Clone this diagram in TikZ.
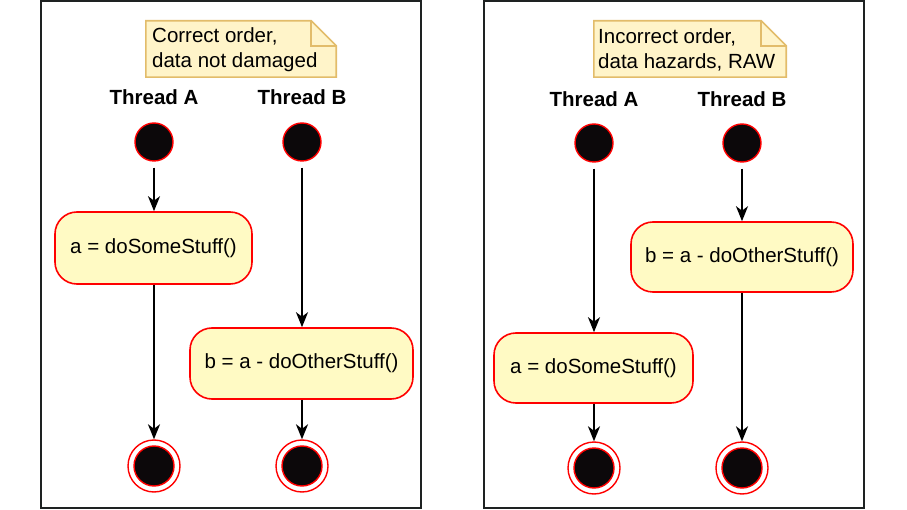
\documentclass[tikz,border=0pt]{standalone}
\usepackage{fontspec}
\setmainfont{Liberation Sans}
\usetikzlibrary{arrows.meta}
\definecolor{actfill}{HTML}{FFFAC4}
\definecolor{notefill}{HTML}{FFF4C9}
\definecolor{notedraw}{HTML}{E2BC6A}
\definecolor{framecol}{HTML}{1E2222}
\definecolor{dotcol}{HTML}{0C080A}
\begin{document}
\begin{tikzpicture}[x=1pt,y=-1pt,
  every node/.style={font=\fontsize{20.5}{25}\selectfont},
  frame/.style={draw=framecol,line width=2pt},
  action/.style={draw=red,line width=1.6pt,fill=actfill,rounded corners=22pt,inner sep=0pt},
  startdot/.style={circle,draw=red,line width=1.4pt,fill=dotcol,minimum size=38pt,inner sep=0pt},
  enddot/.style={circle,draw=red,line width=1.4pt,minimum size=52pt,inner sep=0pt,fill=white},
  endinner/.style={circle,draw=red,line width=1.4pt,fill=dotcol,minimum size=40pt,inner sep=0pt},
  flow/.style={line width=2pt,-{Stealth[length=15pt,width=12pt,inset=4.5pt]}},
  label/.style={font=\fontsize{20.5}{25}\selectfont\bfseries},
  notebox/.style={minimum width=190pt,minimum height=56pt,inner sep=0pt},
  notetext/.style={align=left,inner sep=0pt,anchor=west}
]
\useasboundingbox (0,0) rectangle (907,510);
\fill[white] (0,0) rectangle (907,510);

% frames
\node[frame,minimum width=380pt,minimum height=507pt,inner sep=0pt] (frameL) at (231,254.5) {};
\node[frame,minimum width=380pt,minimum height=507pt,inner sep=0pt] (frameR) at (674,254.5) {};

% ---------- left panel ----------
\node[notebox] (noteL) at (241,49) {};
\draw[notedraw,line width=1.6pt,fill=notefill]
  (noteL.north west) -- ([xshift=-25pt]noteL.north east) -- ([yshift=-25pt]noteL.north east)
  -- (noteL.south east) -- (noteL.south west) -- cycle;
\draw[notedraw,line width=1.6pt]
  ([xshift=-25pt]noteL.north east) -- ([xshift=-25pt,yshift=-25pt]noteL.north east) -- ([yshift=-25pt]noteL.north east);
\node[notetext] (noteLt) at (152,50) {Correct order,\\data not damaged};

\node[label] (thAL) at (154,97) {Thread A};
\node[label] (thBL) at (302,97) {Thread B};

\node[startdot] (sAL) at (154,142) {};
\node[startdot] (sBL) at (302,142) {};

\node[action,minimum width=197pt,minimum height=72pt] (aL) at (153.5,248) {a = doSomeStuff()};
\node[action,minimum width=223pt,minimum height=71pt] (bL) at (301.5,363.5) {b = a - doOtherStuff()};

\node[enddot] (eAL) at (154,466) {};
\node[endinner] at (eAL.center) {};
\node[enddot] (eBL) at (302,466) {};
\node[endinner] at (eBL.center) {};

\draw[flow,shorten <=6pt] (sAL.south) -- (aL.north -| sAL.south);
\draw[flow] (aL.south -| eAL.north) -- (eAL.north);
\draw[flow,shorten <=6pt] (sBL.south) -- (bL.north -| sBL.south);
\draw[flow] (bL.south -| eBL.north) -- (eBL.north);

% ---------- right panel ----------
\node[notebox,minimum width=192pt] (noteR) at (690,49) {};
\draw[notedraw,line width=1.6pt,fill=notefill]
  (noteR.north west) -- ([xshift=-25pt]noteR.north east) -- ([yshift=-25pt]noteR.north east)
  -- (noteR.south east) -- (noteR.south west) -- cycle;
\draw[notedraw,line width=1.6pt]
  ([xshift=-25pt]noteR.north east) -- ([xshift=-25pt,yshift=-25pt]noteR.north east) -- ([yshift=-25pt]noteR.north east);
\node[notetext] (noteRt) at (598,50) {Incorrect order,\\data hazards, RAW};

\node[label] (thAR) at (594,99) {Thread A};
\node[label] (thBR) at (742,99) {Thread B};

\node[startdot] (sAR) at (594,143) {};
\node[startdot] (sBR) at (742,143) {};

\node[action,minimum width=222pt,minimum height=70pt] (bR) at (742,257) {b = a - doOtherStuff()};
\node[action,minimum width=199pt,minimum height=70pt] (aR) at (593.5,368) {a = doSomeStuff()};

\node[enddot] (eAR) at (594,468) {};
\node[endinner] at (eAR.center) {};
\node[enddot] (eBR) at (742,468) {};
\node[endinner] at (eBR.center) {};

\draw[flow,shorten <=6pt] (sAR.south) -- (aR.north -| sAR.south);
\draw[flow] (aR.south -| eAR.north) -- (eAR.north);
\draw[flow,shorten <=6pt] (sBR.south) -- (bR.north -| sBR.south);
\draw[flow] (bR.south -| eBR.north) -- (eBR.north);
\end{tikzpicture}
\end{document}
